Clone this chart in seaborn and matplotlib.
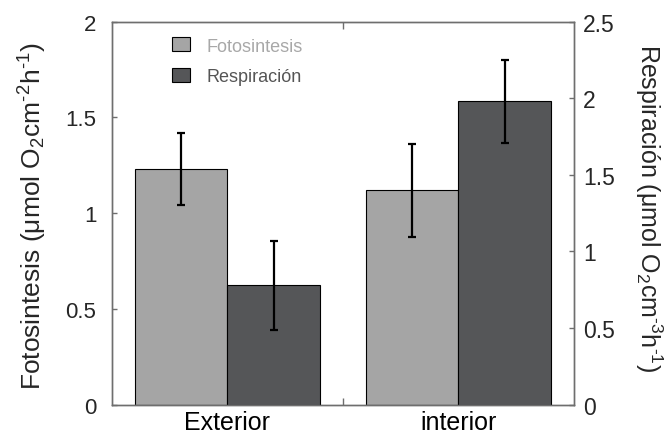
import matplotlib
matplotlib.use("Agg")
import matplotlib.pyplot as plt
from matplotlib.patches import Patch
from matplotlib.ticker import FixedLocator
import pandas as pd
import seaborn as sns

# Datos: fotosíntesis (eje izquierdo) y respiración (eje derecho)
sitios = ["Exterior", "interior"]
series = ["Fotosintesis", "Respiración"]
fotosintesis = [1.23, 1.12]
fotosintesis_err = [0.186, 0.243]
respiracion = [0.78, 1.98]
respiracion_err = [0.29, 0.27]
ticks_foto = [0, 0.5, 1, 1.5, 2]
ticks_resp = [0, 0.5, 1, 1.5, 2, 2.5]

colores = {"Fotosintesis": "#a5a5a5", "Respiración": "#555658"}
color_marco = "#6e6e6e"

sns.set_theme(style="white")
plt.rcParams["font.family"] = ["Liberation Sans", "DejaVu Sans"]
plt.rcParams["mathtext.fontset"] = "custom"
plt.rcParams["mathtext.rm"] = "Liberation Sans"
plt.rcParams["mathtext.it"] = "Liberation Sans:italic"
plt.rcParams["mathtext.bf"] = "Liberation Sans:bold"

df_foto = pd.DataFrame({"sitio": sitios, "serie": series[0], "valor": fotosintesis})
df_resp = pd.DataFrame({"sitio": sitios, "serie": series[1], "valor": respiracion})

fig = plt.figure(figsize=(6.66, 4.35), dpi=100)
ax = fig.add_axes([0.1677, 0.0674, 0.6942, 0.8806])

comunes = dict(x="sitio", y="valor", hue="serie", hue_order=series, order=sitios,
               palette=colores, width=0.8, dodge=True, errorbar=None,
               edgecolor="black", linewidth=0.8, saturation=1, legend=False)

sns.barplot(data=df_foto, ax=ax, **comunes)
ax2 = ax.twinx()
sns.barplot(data=df_resp, ax=ax2, **comunes)

def barras_error(eje, valores, errores):
    xs = [p.get_x() + p.get_width() / 2 for p in eje.patches]
    eje.errorbar(xs, valores, yerr=errores, fmt="none", ecolor="black",
                 elinewidth=1.6, capsize=3, capthick=1.6, zorder=5)

barras_error(ax, fotosintesis, fotosintesis_err)
barras_error(ax2, respiracion, respiracion_err)

ax.set_xlim(-0.5, 1.5)
ax.set_ylim(0, 2)
ax2.set_ylim(0, 2.5)
ax.set_yticks(ticks_foto)
ax.set_yticklabels(["0", "0.5", "1", "1.5", "2"])
ax2.set_yticks(ticks_resp)
ax2.set_yticklabels(["0", "0.5", "1", "1.5", "2", "2.5"])

ax.set_xlabel("")
ax.xaxis.set_minor_locator(FixedLocator([0.5]))
ax.tick_params(axis="x", which="major", length=0, labelsize=18, pad=4, colors="black")
ax.tick_params(axis="x", which="minor", direction="in", length=5, width=1,
               top=True, bottom=True, color=color_marco)
ax.tick_params(axis="y", direction="in", length=3.5, width=1, labelsize=16,
               pad=11, color=color_marco, left=True)
ax2.tick_params(axis="y", direction="in", length=3.5, width=1, labelsize=16.5,
                pad=6.5, color=color_marco, right=True)

for eje in (ax, ax2):
    for sp in eje.spines.values():
        sp.set_visible(True)
        sp.set_color(color_marco)
        sp.set_linewidth(1.0)

ax.set_ylabel(r"Fotosintesis ($\mathregular{\mu}$mol O$_2$cm$^{\text{-}2}$h$^{\text{-}1}$)",
              fontsize=19)
ax.yaxis.set_label_coords(-0.1355, 0.494)
ax2.set_ylabel(r"Respiración ($\mathregular{\mu}$mol O$_2$cm$^{\text{-}3}$h$^{\text{-}1}$)",
               fontsize=18, rotation=270, va="bottom")
ax2.yaxis.set_label_coords(1.128, 0.516)

manejadores = [Patch(facecolor=colores[s], edgecolor="black", linewidth=0.8) for s in series]
leyenda = ax2.legend(manejadores, series, loc="upper left", bbox_to_anchor=(0.13, 0.959),
                     frameon=False, fontsize=13, handlelength=1.0, handleheight=0.8,
                     handletextpad=0.9, labelspacing=0.75, borderpad=0, borderaxespad=0)
for texto, c in zip(leyenda.get_texts(), ["#a8a8a8", "#555555"]):
    texto.set_color(c)

fig.savefig("out.png", dpi=100)
